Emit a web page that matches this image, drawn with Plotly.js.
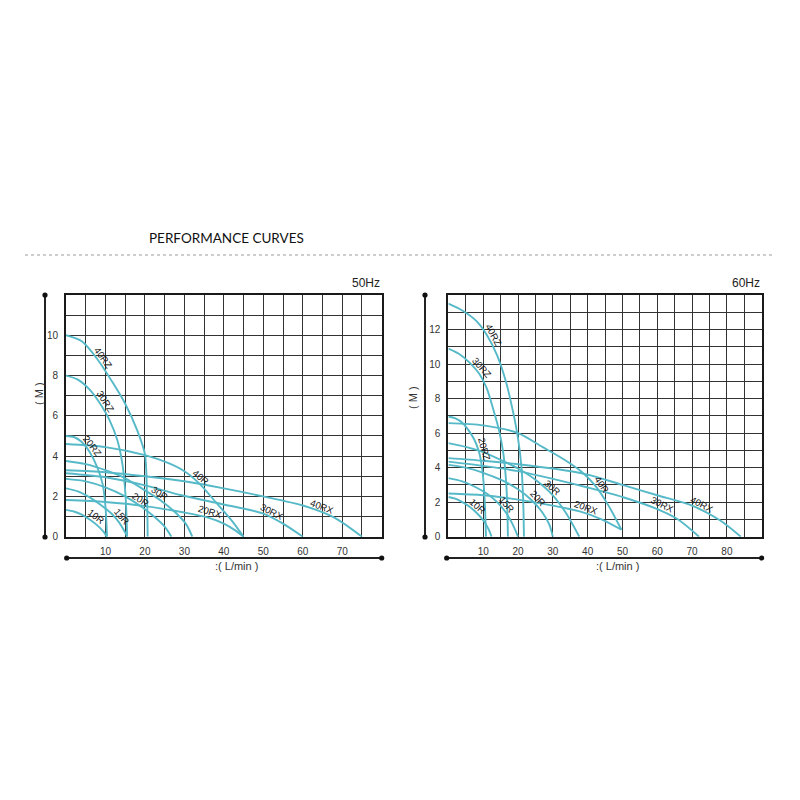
<!DOCTYPE html>
<html><head><meta charset="utf-8">
<script src="https://cdn.plot.ly/plotly-3.0.1.min.js"></script>
<style>html,body{margin:0;padding:0;background:#fff}#chart{width:800px;height:800px}</style>
</head><body><div id="chart"></div>
<script>
const models = ['10R','15R','20R','30R','40R','20RX','30RX','40RX','20RZ','30RZ','40RZ'];

// 50Hz : flow (L/min) and head (M)
const flow50 = [
 [0,2,4,6,8,9.5,10.3],
 [0,3,6,9,11.5,13.5,15,15.5],
 [0,5,10,15,19,22,25,26.7],
 [0,5,10,15,20,24,28,30.5,32],
 [0,10,20,26,30,34,38,42,45],
 [0,10,20,30,36,40,43,45],
 [0,10,20,29,40,50,55,60],
 [0,10,20,30,40,50,60,68,75],
 [0,2,4,6,8,9.3,10,10.4],
 [0,3,6,9,11,13,14.3,15.1,15.5],
 [0,4,8,12,15,18,20,20.5,20.7]
];
const head50 = [
 [1.33,1.25,1.1,0.85,0.55,0.25,0],
 [2.4,2.25,1.95,1.55,1.15,0.7,0.2,0],
 [2.87,2.75,2.45,2.0,1.5,1.05,0.5,0],
 [3.76,3.6,3.3,2.9,2.3,1.8,1.15,0.6,0],
 [4.6,4.45,4.05,3.65,3.25,2.6,1.7,0.8,0],
 [1.82,1.72,1.52,1.2,0.95,0.65,0.3,0],
 [3.15,2.95,2.55,2.07,1.6,1.15,0.65,0],
 [3.3,3.2,3.0,2.75,2.4,2.0,1.55,0.95,0],
 [5.0,4.95,4.7,4.2,3.4,2.6,1.5,0],
 [8,7.8,7.3,6.5,5.8,4.8,3.6,2,0],
 [10,9.7,8.8,7.6,6.6,5.3,4.1,2.2,0]
];
// 60Hz
const flow60 = [
 [0,2,4,6,8,10,11.5,12.4],
 [0,4,8,11,14,16.5,18.5,20],
 [0,5,10,15,20,24,27,29,30],
 [0,5,10,15,20,25,30,34,37.6],
 [0,10,20,27,33,38,42,46,49.7],
 [0,10,20,30,38,44,49.7],
 [0,10,20,30,40,50,60,66,72],
 [0,10,20,30,40,50,60,70,78,84],
 [0,2,4,6,7.5,8.8,9.8,10.4,10.8],
 [0,3,6,9,11,13,14.5,15.8,16.7,17.1],
 [0,4,8,11,14,16.5,18.5,20,21,21.5,21.7]
];
const head60 = [
 [2.3,2.2,2.0,1.75,1.4,0.95,0.45,0],
 [3.39,3.2,2.85,2.5,2.0,1.4,0.7,0],
 [4.16,4.0,3.7,3.3,2.75,2.1,1.4,0.7,0],
 [5.42,5.2,4.9,4.45,3.95,3.3,2.4,1.3,0],
 [6.58,6.45,6.0,5.2,4.5,3.8,3.0,1.8,0.4],
 [2.5,2.4,2.15,1.8,1.45,1.0,0.4],
 [4.35,4.1,3.8,3.35,2.85,2.3,1.6,1.0,0],
 [4.55,4.4,4.2,3.95,3.6,3.0,2.4,1.8,0.95,0],
 [6.96,6.85,6.6,6.1,5.6,4.9,3.8,2.2,0],
 [10.9,10.6,10.1,9.4,8.6,7.3,6.2,4.8,2.8,0],
 [13.5,13.1,12.5,11.7,10.5,9,7.3,5.7,4,2,0]
];
// flow value where each curve label sits
const labelFlow50 = [6.7,13,18.1,23.1,33.3,36,51.4,64.3,5.4,8.8,8.2];
const labelFlow60 = [7.4,15.5,24.5,28.8,42.6,39,60.7,72.1,8.6,8.3,11.4];

const xTicks50 = [10,20,30,40,50,60,70];
const xTicks60 = [10,20,30,40,50,60,70,80];
const yTicks50 = [0,2,4,6,8,10];
const yTicks60 = [0,2,4,6,8,10,12];

// ---------- layout geometry ----------
const W = 800, H = 800;
const dom50 = [66/W, 381.7/W], dom60 = [448.4/W, 761.7/W];
const ydom = [(H-536.7)/H, (H-295)/H];
const xr50 = [0,80], xr60 = [0,90], yr50 = [0,12], yr60 = [0,14];
const curveColor = '#55b9c8';
const FONT = 'Liberation Sans, Arial, sans-serif';

const traces = [];
function addSeries(flows, heads, xa, ya) {
  flows.forEach((f, i) => {
    traces.push({x: f, y: heads[i], xaxis: xa, yaxis: ya, mode: 'lines', name: models[i],
      line: {color: curveColor, width: 1.9, shape: 'spline', smoothing: 0.8},
      hoverinfo: 'x+y+name', showlegend: false});
  });
}
addSeries(flow50, head50, 'x', 'y');
addSeries(flow60, head60, 'x2', 'y2');

function interp(xs, ys, x) {
  for (let i = 0; i < xs.length - 1; i++) {
    if (x >= xs[i] && x <= xs[i+1]) {
      const t = (x - xs[i]) / (xs[i+1] - xs[i]);
      return ys[i] + t * (ys[i+1] - ys[i]);
    }
  }
  return ys[ys.length-1];
}

const annotations = [];
function addLabels(flows, heads, lf, dom, xr, yr, xref, yref) {
  const pxX = (dom[1]-dom[0])*W/(xr[1]-xr[0]);
  const pxY = (ydom[1]-ydom[0])*H/(yr[1]-yr[0]);
  lf.forEach((x, i) => {
    const f = flows[i], h = heads[i];
    const y = interp(f, h, x);
    const d = 0.6;
    const x0 = Math.max(f[0], x-d), x1 = Math.min(f[f.length-1], x+d);
    const dy = (interp(f, h, x1) - interp(f, h, x0)) * pxY;
    const dx = (x1 - x0) * pxX;
    const ang = -Math.atan2(dy, dx) * 180 / Math.PI; // clockwise positive
    const r = ang * Math.PI / 180;
    annotations.push({x: x, y: y, xref: xref, yref: yref, text: models[i], showarrow: false,
      textangle: ang, xshift: 6*Math.sin(r), yshift: 6*Math.cos(r),
      font: {family: FONT, size: 9.5, color: '#151515'}});
  });
}
addLabels(flow50, head50, labelFlow50, dom50, xr50, yr50, 'x', 'y');
addLabels(flow60, head60, labelFlow60, dom60, xr60, yr60, 'x2', 'y2');

function paperText(text, px, py, opts) {
  annotations.push(Object.assign({text: text, x: px/W, y: 1 - py/H, xref: 'paper', yref: 'paper',
    showarrow: false, font: {family: FONT, size: 11, color: '#333'}}, opts || {}));
}
paperText('PERFORMANCE CURVES', 147, 238, {xanchor: 'left', yanchor: 'middle', font: {family: 'Lato, Liberation Sans, sans-serif', size: 13.5, color: '#111'}});
paperText('50Hz', 381.7, 283, {xanchor: 'right', yanchor: 'middle', font: {family: FONT, size: 12, color: '#222'}});
paperText('60Hz', 761.7, 283, {xanchor: 'right', yanchor: 'middle', font: {family: FONT, size: 12, color: '#222'}});
paperText('( M )', 39, 394, {xanchor: 'center', yanchor: 'middle', textangle: -90});
paperText('( M )', 413, 398, {xanchor: 'center', yanchor: 'middle', textangle: -90});
paperText(':( L/min )', 236, 566, {xanchor: 'center', yanchor: 'middle'});
paperText(':( L/min )', 617, 566, {xanchor: 'center', yanchor: 'middle'});

const shapes = [];
function pline(x0, y0, x1, y1, color, width, dash) {
  shapes.push({type: 'line', xref: 'paper', yref: 'paper', x0: x0/W, y0: 1-y0/H, x1: x1/W, y1: 1-y1/H,
    line: {color: color, width: width, dash: dash || 'solid'}});
}
function pdot(cx, cy, r) {
  shapes.push({type: 'circle', xref: 'paper', yref: 'paper', x0: (cx-r)/W, x1: (cx+r)/W, y0: 1-(cy+r)/H, y1: 1-(cy-r)/H,
    fillcolor: '#111', line: {width: 0}});
}
pline(25, 255, 775, 255, '#bdbdbd', 1.5, 'dot');
// axis decorations
pline(45, 295, 45, 537, '#222', 2); pdot(45, 295, 2.6); pdot(45, 537, 2.6);
pline(66.7, 558, 381.7, 558, '#222', 2); pdot(66.7, 558, 2.6); pdot(381.7, 558, 2.6);
pline(425, 295, 425, 537, '#222', 2); pdot(425, 295, 2.6); pdot(425, 537, 2.6);
pline(446.7, 558, 761.7, 558, '#222', 2); pdot(446.7, 558, 2.6); pdot(761.7, 558, 2.6);

function xaxis(dom, range, ticks, anchor) {
  return {domain: dom, range: range, anchor: anchor, tickvals: ticks, ticktext: ticks.map(String),
    showgrid: true, gridcolor: '#333', gridwidth: 1, zeroline: false,
    minor: {dtick: 5, tick0: 0, showgrid: true, gridcolor: '#333', gridwidth: 1},
    showline: true, mirror: true, linecolor: '#1a1a1a', linewidth: 2,
    ticks: 'outside', ticklen: 4, tickcolor: 'rgba(0,0,0,0)',
    tickfont: {family: FONT, size: 10, color: '#333'}, fixedrange: true};
}
function yaxis(range, ticks, anchor) {
  return {domain: ydom, range: range, anchor: anchor, tickvals: ticks, ticktext: ticks.map(String),
    showgrid: true, gridcolor: '#333', gridwidth: 1, zeroline: false,
    minor: {dtick: 1, tick0: 0, showgrid: true, gridcolor: '#333', gridwidth: 1},
    showline: true, mirror: true, linecolor: '#1a1a1a', linewidth: 2,
    ticks: 'outside', ticklen: 4, tickcolor: 'rgba(0,0,0,0)',
    tickfont: {family: FONT, size: 10, color: '#333'}, fixedrange: true};
}

const layout = {
  width: W, height: H, margin: {l: 0, r: 0, t: 0, b: 0},
  paper_bgcolor: '#fff', plot_bgcolor: '#fff', showlegend: false,
  xaxis: xaxis(dom50, xr50, xTicks50, 'y'),
  yaxis: yaxis(yr50, yTicks50, 'x'),
  xaxis2: xaxis(dom60, xr60, xTicks60, 'y2'),
  yaxis2: yaxis(yr60, yTicks60, 'x2'),
  annotations: annotations, shapes: shapes
};
Plotly.newPlot('chart', traces, layout, {displayModeBar: false, staticPlot: true});
</script></body></html>
